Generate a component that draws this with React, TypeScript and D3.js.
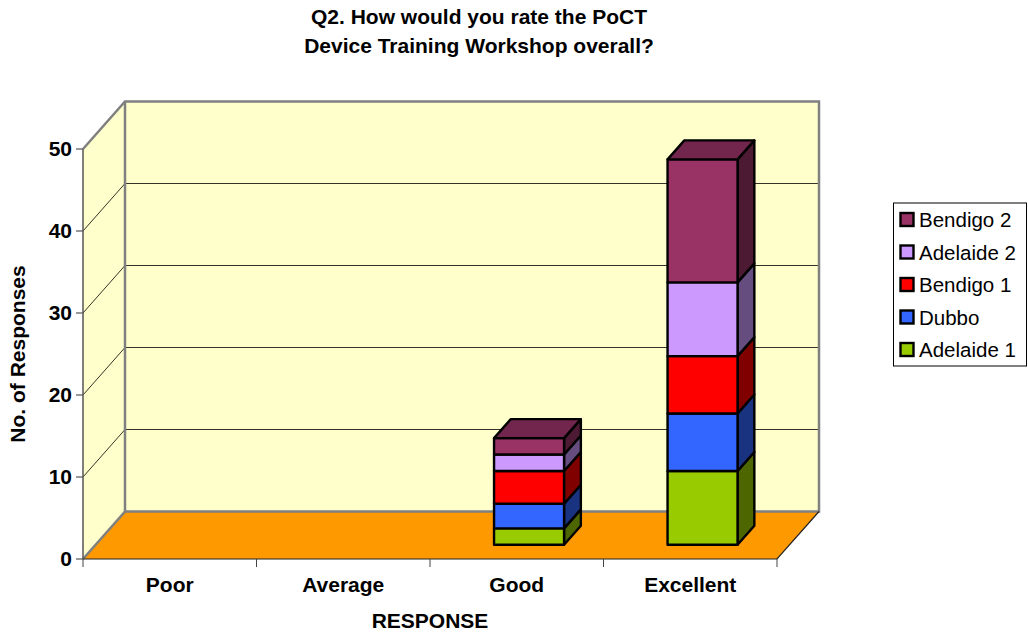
import React from "react";
import * as d3 from "d3";

const titleLines = ["Q2. How would you rate the PoCT", "Device Training Workshop overall?"];
const categories = ["Poor", "Average", "Good", "Excellent"];
const seriesNames = ["Adelaide 1", "Dubbo", "Bendigo 1", "Adelaide 2", "Bendigo 2"];
const seriesColors = ["#99CC00", "#3366FF", "#FF0000", "#CC99FF", "#993366"];
const adelaide1 = [0, 0, 2, 9];
const dubbo = [0, 0, 3, 7];
const bendigo1 = [0, 0, 4, 7];
const adelaide2 = [0, 0, 2, 9];
const bendigo2 = [0, 0, 2, 15];
const seriesValues = [adelaide1, dubbo, bendigo1, adelaide2, bendigo2];
const yTicks = [0, 10, 20, 30, 40, 50];
const yTitle = "No. of Responses";
const xTitle = "RESPONSE";

const FONT = "'Liberation Sans', Arial, sans-serif";
const W = 1028, H = 634;
const x0 = 83, x1 = 777, yBase = 559, yTop = 149;
const depthX = 42, depthY = 47.5;

const x = d3.scaleBand<string>().domain(categories).range([x0, x1]);
const y = d3.scaleLinear().domain([0, 50]).range([yBase, yTop]);
// depth coordinate: 0 = front plane, 1 = back wall
const px = (v: number, d: number) => v + d * depthX;
const py = (v: number, d: number) => y(v) - d * depthY;

const barWidth = 70;
const d0 = 0.3, d1 = 0.7;

const poly = (pts: [number, number][]) => d3.line()(pts)! + "Z";

const stacked = d3.stack<number>()
  .keys(seriesNames.map((_, i) => i) as any)
  .value((i: any, k: any) => seriesValues[k][i])(categories.map((_, i) => i) as any);

const shade = (c: string, k: number) => {
  const r = d3.rgb(c);
  return d3.rgb(r.r * k, r.g * k, r.b * k).formatHex();
};

const legendOrder = d3.range(seriesNames.length).reverse();

export default function App() {
  const grey = "#808080";
  return (
    <svg width={W} height={H} viewBox={`0 0 ${W} ${H}`}
      style={{ position: "absolute", left: 0, top: 0, background: "#fff" }} fontFamily={FONT}>
      {titleLines.map((t, i) => (
        <text key={t} x={479} y={24 + i * 28.5} textAnchor="middle" fontSize={21} fontWeight="bold" fill="#000">{t}</text>
      ))}

      {/* walls */}
      <path d={poly([[px(x0, 1), py(0, 1)], [px(x1, 1), py(0, 1)], [px(x1, 1), py(50, 1)], [px(x0, 1), py(50, 1)]])} fill="#FFFFCC" />
      <path d={poly([[px(x0, 0), py(0, 0)], [px(x0, 1), py(0, 1)], [px(x0, 1), py(50, 1)], [px(x0, 0), py(50, 0)]])} fill="#FFFFCC" />
      <path d={poly([[px(x0, 0), py(0, 0)], [px(x1, 0), py(0, 0)], [px(x1, 1), py(0, 1)], [px(x0, 1), py(0, 1)]])} fill="#FF9900" />

      {/* gridlines */}
      {yTicks.filter(t => t > 0 && t < 50).map(t => (
        <path key={t} d={d3.line()([[px(x0, 0), py(t, 0)], [px(x0, 1), py(t, 1)], [px(x1, 1), py(t, 1)]])!}
          fill="none" stroke="#000" strokeWidth={1} strokeOpacity={0.8} />
      ))}

      {/* wall frame */}
      <path d={d3.line()([[px(x0, 0), py(50, 0)], [px(x0, 1), py(50, 1)], [px(x1, 1), py(50, 1)], [px(x1, 1), py(0, 1)], [px(x0, 1), py(0, 1)]])!}
        fill="none" stroke={grey} strokeWidth={2.5} />
      <path d={d3.line()([[px(x0, 1), py(50, 1)], [px(x0, 1), py(0, 1)], [px(x0, 0), py(0, 0)]])!}
        fill="none" stroke={grey} strokeWidth={2.5} />

      {/* floor edges and axes */}
      <path d={d3.line()([[px(x0, 0), py(0, 0)], [px(x1, 0), py(0, 0)], [px(x1, 1), py(0, 1)]])!}
        fill="none" stroke="#222" strokeWidth={1.2} />
      <path d={d3.line()([[x0, y(50)], [x0, y(0)]])!} fill="none" stroke="#555" strokeWidth={1.5} />
      {yTicks.map(t => (
        <g key={t}>
          <line x1={x0 - 7} x2={x0} y1={y(t)} y2={y(t)} stroke="#555" strokeWidth={1.2} />
          <text x={x0 - 11} y={y(t) + 7} textAnchor="end" fontSize={21} fontWeight="bold" fill="#000">{t}</text>
        </g>
      ))}
      {[...categories.map(c => x(c)!), x1].map(v => (
        <line key={v} x1={v} x2={v} y1={y(0)} y2={y(0) + 8} stroke="#444" strokeWidth={1} />
      ))}
      {categories.map(c => (
        <text key={c} x={x(c)! + x.bandwidth() / 2} y={592} textAnchor="middle" fontSize={21} fontWeight="bold" fill="#000">{c}</text>
      ))}
      <text x={430} y={628} textAnchor="middle" fontSize={21} fontWeight="bold" fill="#000">{xTitle}</text>
      <text transform="translate(25,354) rotate(-90)" textAnchor="middle" fontSize={21} fontWeight="bold" fill="#000">{yTitle}</text>

      {/* bars */}
      {categories.map((c, ci) => {
        const centre = x(c)! + x.bandwidth() / 2;
        const l = centre - barWidth / 2 - 0.3;
        const r = l + barWidth;
        const total = d3.sum(seriesValues, s => s[ci]);
        return (
          <g key={c} stroke="#000" strokeWidth={2.4} strokeLinejoin="round">
            {stacked.map((layer, si) => {
              const [a, b] = layer[ci] as unknown as [number, number];
              if (b <= a) return null;
              const col = seriesColors[si];
              return (
                <g key={si}>
                  <path d={poly([[px(r, d0), py(a, d0)], [px(r, d1), py(a, d1)], [px(r, d1), py(b, d1)], [px(r, d0), py(b, d0)]])} fill={shade(col, 0.5)} />
                  <path d={poly([[px(l, d0), py(a, d0)], [px(r, d0), py(a, d0)], [px(r, d0), py(b, d0)], [px(l, d0), py(b, d0)]])} fill={col} />
                  {b === total && (
                    <path d={poly([[px(l, d0), py(b, d0)], [px(r, d0), py(b, d0)], [px(r, d1), py(b, d1)], [px(l, d1), py(b, d1)]])} fill={shade(col, 0.75)} />
                  )}
                </g>
              );
            })}
          </g>
        );
      })}

      {/* legend */}
      <rect x={893.5} y={203} width={133} height={163} fill="#fff" stroke="#000" strokeWidth={1} />
      {legendOrder.map((si, i) => (
        <g key={si}>
          <rect x={900.5} y={213} width={13} height={13} transform={`translate(0,${i * 32.5})`} fill={seriesColors[si]} stroke="#000" strokeWidth={2.4} />
          <text x={919} y={227 + i * 32.5} fontSize={20.5} fill="#000">{seriesNames[si]}</text>
        </g>
      ))}
    </svg>
  );
}
